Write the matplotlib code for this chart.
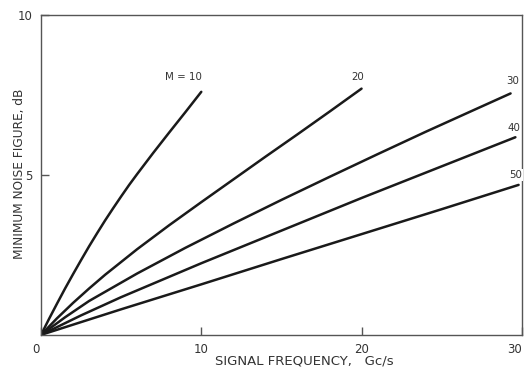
import matplotlib
matplotlib.use("Agg")
import matplotlib.pyplot as plt
import matplotlib.transforms as mtransforms

# Data
m_labels = ["M = 10", "20", "30", "40", "50"]
m10_x = [0, 0.5, 1, 1.5, 2, 2.5, 3, 3.5, 4, 4.5, 5, 5.5, 6, 7, 8, 9, 10]
m10_y = [0, 0.5, 0.98, 1.45, 1.9, 2.34, 2.77, 3.18, 3.58, 3.96, 4.33, 4.69, 5.03, 5.69, 6.33, 6.96, 7.6]
m20_x = [0, 1, 2, 3, 4, 6, 8, 10, 12, 14, 16, 18, 20]
m20_y = [0, 0.52, 1.0, 1.45, 1.88, 2.68, 3.43, 4.15, 4.86, 5.57, 6.27, 6.98, 7.7]
m30_x = [0, 1.5, 3, 6, 9, 12, 15, 18, 21, 24, 27, 29.3]
m30_y = [0, 0.55, 1.06, 1.92, 2.72, 3.48, 4.22, 4.94, 5.65, 6.35, 7.03, 7.55]
m40_x = [0, 2.5, 5, 10, 15, 20, 25, 29.6]
m40_y = [0, 0.61, 1.18, 2.24, 3.26, 4.28, 5.27, 6.18]
m50_x = [0, 5, 10, 15, 20, 25, 29.8]
m50_y = [0, 0.8, 1.58, 2.37, 3.15, 3.93, 4.69]
x_ticks = [0, 10, 20, 30]
y_ticks = [5, 10]

series = [(m10_x, m10_y), (m20_x, m20_y), (m30_x, m30_y), (m40_x, m40_y), (m50_x, m50_y)]

plt.rcParams['font.family'] = ['DejaVu Sans']
fig = plt.figure(figsize=(5.26, 3.68), dpi=100)
ax = fig.add_axes([0.078, 0.09, 0.914, 0.869])
ax.set_xlim(0, 30)
ax.set_ylim(0, 10)

for xs, ys in series:
    ax.plot(xs, ys, color='#1a1a1a', lw=1.8, solid_capstyle='round', solid_joinstyle='round')

tc = '#333333'
fs = 7.4
ax.text(10.05, 8.05, m_labels[0], ha='right', va='center', fontsize=fs, color=tc)
ax.text(19.75, 8.06, m_labels[1], ha='center', va='center', fontsize=fs, color=tc)
wb = dict(facecolor='white', edgecolor='none', pad=0.6)
ax.text(29.4, 7.94, m_labels[2], ha='center', va='center', fontsize=fs, color=tc, bbox=wb, clip_on=False)
ax.text(29.5, 6.47, m_labels[3], ha='center', va='center', fontsize=fs, color=tc, bbox=wb, clip_on=False)
ax.text(29.6, 5.0, m_labels[4], ha='center', va='center', fontsize=fs, color=tc, bbox=wb, clip_on=False)

for s in ax.spines.values():
    s.set_color('#555555')
    s.set_linewidth(1.0)

ax.set_xticks(x_ticks)
ax.set_xticklabels([str(v) for v in x_ticks])
ax.set_yticks(y_ticks)
ax.set_yticklabels([str(v) for v in y_ticks])
ax.tick_params(direction='in', length=6, width=1, color='#555555', labelsize=8.5, labelcolor=tc, pad=6)
for lab in ax.get_xticklabels():
    if lab.get_text() == '30':
        lab.set_ha('right')
    if lab.get_text() == '0':
        lab.set_transform(lab.get_transform() + mtransforms.ScaledTranslation(-5/100, 0, fig.dpi_scale_trans))

ax.set_xlabel("SIGNAL FREQUENCY,   Gc/s", fontsize=9.5, color=tc)
ax.xaxis.set_label_coords(0.547, -0.062)
ax.set_ylabel("MINIMUM NOISE FIGURE, dB", fontsize=8.7, color=tc)
ax.yaxis.set_label_coords(-0.032, 0.505)

fig.savefig("out.png", dpi=100, facecolor='white')
